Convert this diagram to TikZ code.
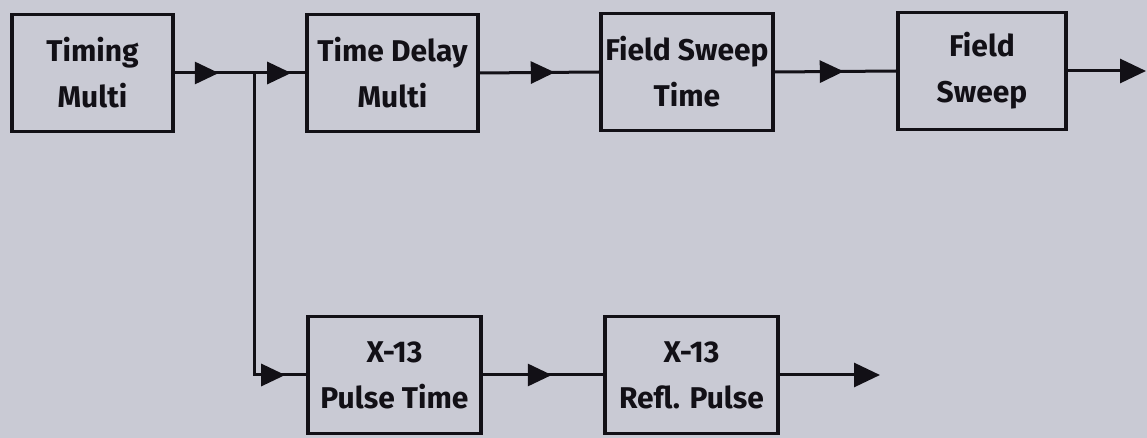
\documentclass[tikz,border=0pt]{standalone}
\usepackage{fontspec}
\setmainfont{Fira Sans}
\usetikzlibrary{arrows.meta,decorations.markings}
\definecolor{paper}{RGB}{201,202,212}
\definecolor{ink}{RGB}{18,16,22}
\tikzset{
  blk/.style={draw=ink, line width=1.8pt, rectangle, minimum width=#1, minimum height=58.5pt,
    inner sep=0pt, align=center, text=ink, font=\fontsize{15}{23}\selectfont\bfseries},
  wire/.style={draw=ink, line width=1.5pt},
  midarrow/.style={postaction={decorate}, decoration={markings,
    mark=at position #1 with {\arrow{Triangle[length=12pt,width=11pt]}}}},
  endarrow/.style={-{Triangle[length=13pt,width=12pt]}}
}
\begin{document}
\begin{tikzpicture}[x=0.5pt,y=-0.5pt]
\fill[paper] (0,0) rectangle (1147,438);
\useasboundingbox (0,0) rectangle (1147,438);

\node[blk=80.5pt] (tm)  at (92.5,73)  {Timing\\Multi};
\node[blk=85.5pt] (td)  at (392.5,73) {Time Delay\\Multi};
\node[blk=86pt]   (fst) at (687,72)   {Field Sweep\\Time};
\node[blk=84pt]   (fs)  at (982,71)   {Field\\Sweep};
\node[blk=86.5pt] (xp)  at (394.5,375) {X-13\\Pulse Time};
\node[blk=86.5pt] (xr)  at (691.5,375) {X-13\\Refl. Pulse};

\coordinate (br)   at (254,73);
\coordinate (brd)  at (254,375);
\coordinate (out1) at (1146,71);
\coordinate (out2) at (880,375);

\draw[wire, midarrow=22pt] (tm.east) -- (br);
\draw[wire, midarrow=-7pt] (br) -- (td.west);
\draw[wire, midarrow=-10.5pt] (br) -- (brd) -- (xp.west);
\draw[wire, midarrow=37.5pt] (td.east) -- (fst.west);
\draw[wire, midarrow=34.5pt] (fst.east) -- (fs.west);
\draw[wire, endarrow] (fs.east) -- (out1);
\draw[wire, midarrow=34.5pt] (xp.east) -- (xr.west);
\draw[wire, endarrow] (xr.east) -- (out2);
\end{tikzpicture}
\end{document}
